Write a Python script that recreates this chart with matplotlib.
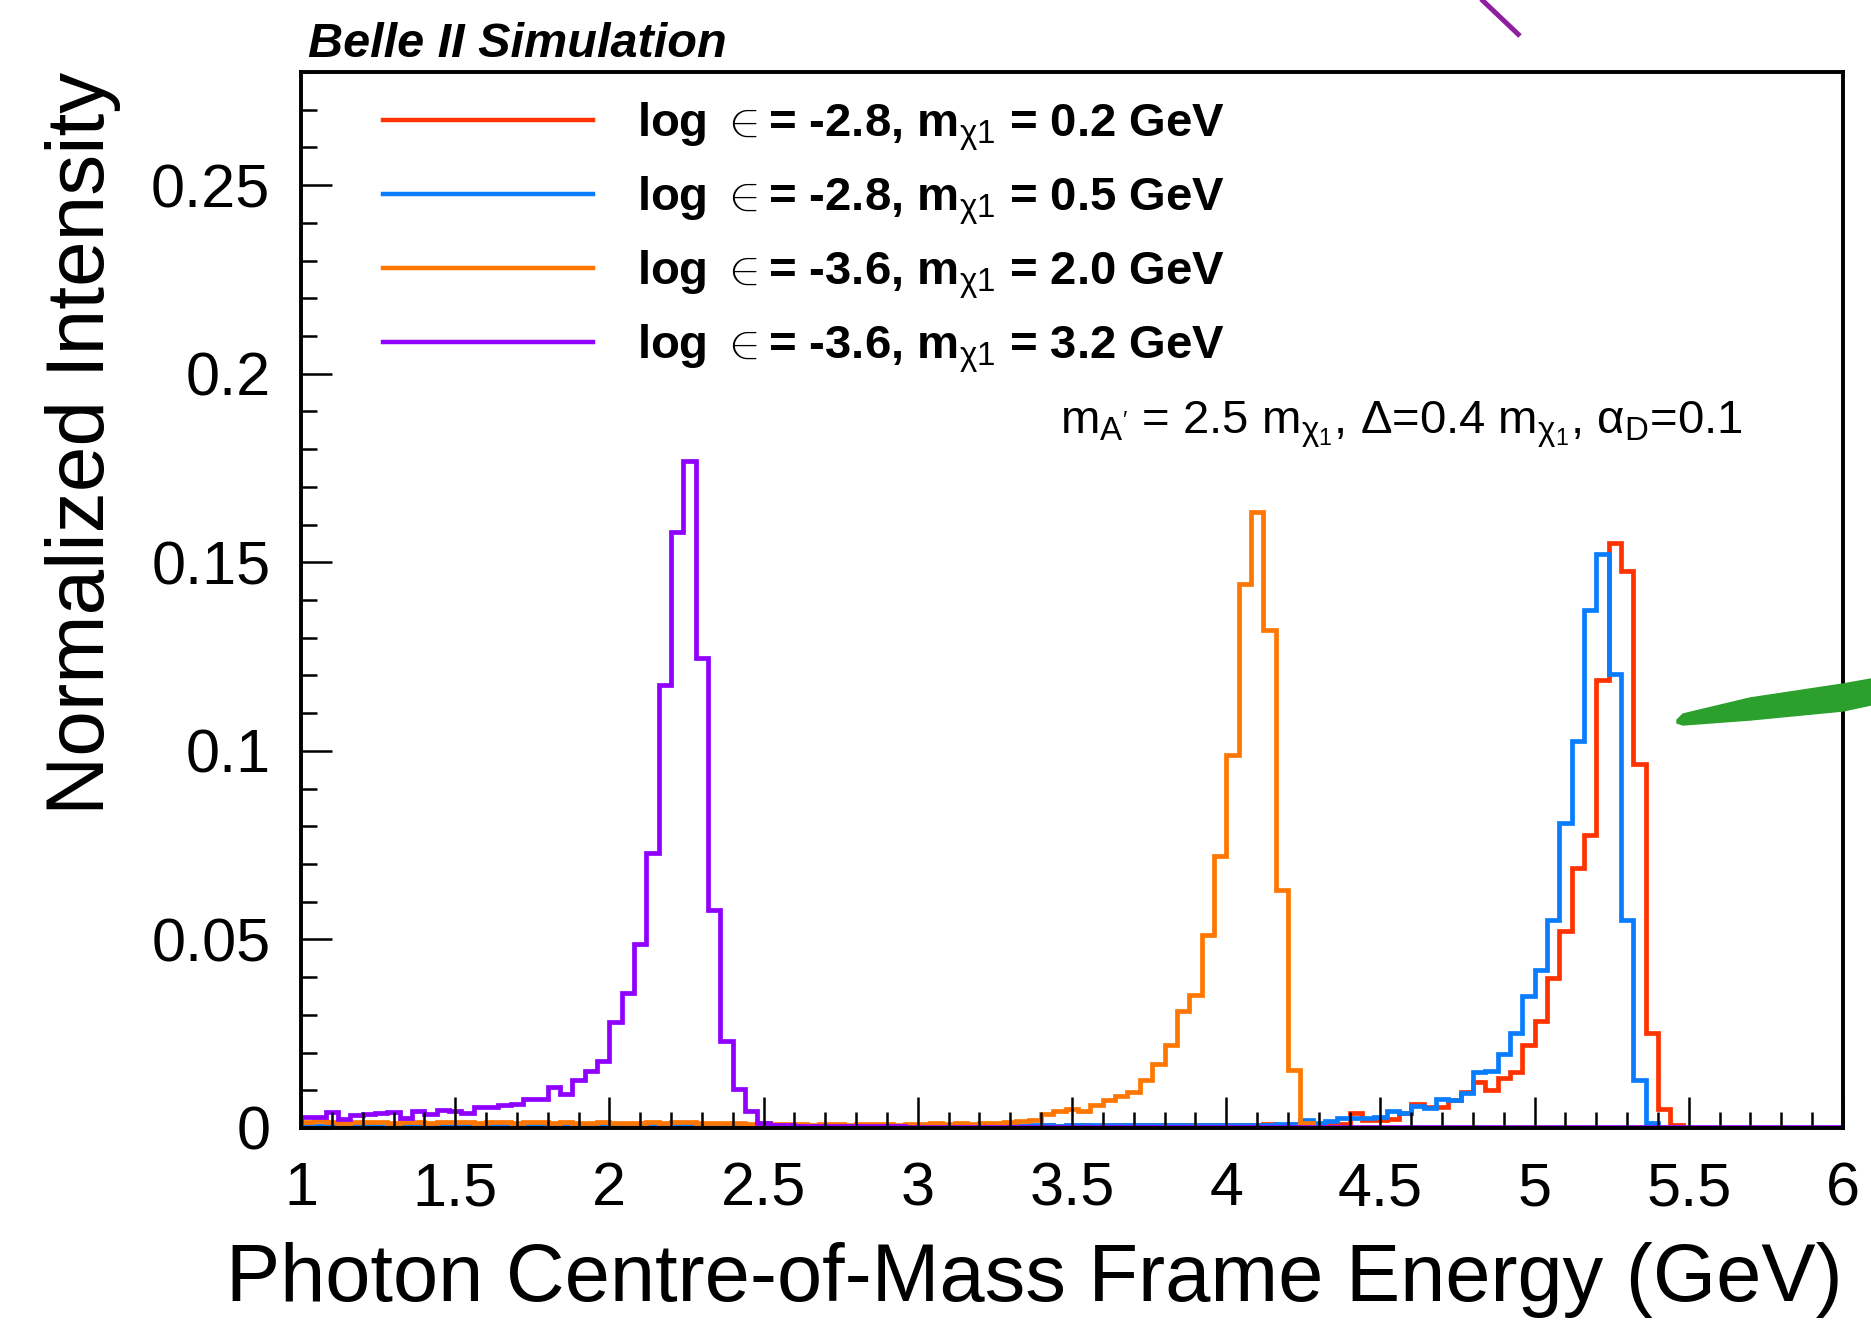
import numpy as np
import matplotlib
matplotlib.use("Agg")
import matplotlib.pyplot as plt
from matplotlib.lines import Line2D
from matplotlib.patches import Polygon

plt.rcParams['font.family'] = ['Liberation Sans', 'DejaVu Sans']
plt.rcParams['mathtext.fontset'] = 'custom'
plt.rcParams['mathtext.rm'] = 'Liberation Sans'
plt.rcParams['mathtext.it'] = 'Liberation Sans:italic'
plt.rcParams['mathtext.bf'] = 'Liberation Sans:bold'

# 125 bins of 0.04 GeV between 1 and 6 GeV
bin_edges = np.round(1.0 + 0.04 * np.arange(126), 2)

# eps=-2.8, m=0.2 GeV
red_vals = [
    0.0004, 0.0005, 0.0003, 0.0004, 0.0005, 0.0004, 0.0003, 0.0004, 0.0005, 0.0004,
    0.0003, 0.0004, 0.0005, 0.0004, 0.0004, 0.0003, 0.0004, 0.0005, 0.0004, 0.0004,
    0.0005, 0.0011, 0.0004, 0.0004, 0.0005, 0.0004, 0.0004, 0.0005, 0.0004, 0.0005,
    0.0004, 0.0005, 0.0004, 0.0004, 0.0005, 0.0004, 0.0005, 0.0004, 0.0005, 0.0005,
    0.0004, 0.0005, 0.0005, 0.0004, 0.0005, 0.0006, 0.0005, 0.0005, 0.0006, 0.0005,
    0.0006, 0.0005, 0.0006, 0.0006, 0.0005, 0.0006, 0.0006, 0.0007, 0.0006, 0.0006,
    0.0007, 0.0006, 0.0007, 0.0007, 0.0006, 0.0007, 0.0007, 0.0008, 0.0007, 0.0008,
    0.0007, 0.0008, 0.0008, 0.0007, 0.0008, 0.0009, 0.0008, 0.0009, 0.0010, 0.0009,
    0.0011, 0.0010, 0.0011, 0.0011, 0.0011, 0.0040, 0.0021, 0.0021, 0.0024, 0.0040,
    0.0064, 0.0056, 0.0056, 0.0073, 0.0096, 0.0121, 0.0100, 0.0132, 0.0148, 0.0219,
    0.0284, 0.0397, 0.0522, 0.0690, 0.0776, 0.1188, 0.1550, 0.1478, 0.0966, 0.0251,
    0.0051, 0.0008, 0.0, 0.0, 0.0, 0.0, 0.0, 0.0, 0.0, 0.0,
    0.0, 0.0, 0.0, 0.0, 0.0,
]

# eps=-2.8, m=0.5 GeV
blue_vals = [
    0.0006, 0.0005, 0.0004, 0.0005, 0.0004, 0.0005, 0.0004, 0.0004, 0.0005, 0.0006,
    0.0004, 0.0005, 0.0004, 0.0005, 0.0004, 0.0004, 0.0005, 0.0006, 0.0004, 0.0005,
    0.0004, 0.0005, 0.0004, 0.0005, 0.0006, 0.0005, 0.0004, 0.0005, 0.0004, 0.0005,
    0.0005, 0.0004, 0.0005, 0.0006, 0.0005, 0.0004, 0.0005, 0.0005, 0.0006, 0.0005,
    0.0005, 0.0006, 0.0005, 0.0005, 0.0006, 0.0005, 0.0006, 0.0006, 0.0005, 0.0006,
    0.0006, 0.0005, 0.0006, 0.0006, 0.0007, 0.0006, 0.0006, 0.0007, 0.0006, 0.0007,
    0.0007, 0.0006, 0.0007, 0.0007, 0.0008, 0.0007, 0.0007, 0.0008, 0.0007, 0.0008,
    0.0007, 0.0007, 0.0008, 0.0007, 0.0008, 0.0008, 0.0009, 0.0008, 0.0009, 0.0010,
    0.0011, 0.0021, 0.0013, 0.0018, 0.0027, 0.0026, 0.0027, 0.0029, 0.0045, 0.0040,
    0.0058, 0.0053, 0.0078, 0.0075, 0.0094, 0.0148, 0.0150, 0.0197, 0.0251, 0.0349,
    0.0419, 0.0551, 0.0809, 0.1027, 0.1374, 0.1523, 0.1204, 0.0551, 0.0127, 0.0013,
    0.0, 0.0, 0.0, 0.0, 0.0, 0.0, 0.0, 0.0, 0.0, 0.0,
    0.0, 0.0, 0.0, 0.0, 0.0,
]

# eps=-3.6, m=2.0 GeV
orange_vals = [
    0.0015, 0.0018, 0.0016, 0.0014, 0.0017, 0.0015, 0.0016, 0.0014, 0.0016, 0.0015,
    0.0014, 0.0016, 0.0015, 0.0017, 0.0014, 0.0015, 0.0016, 0.0014, 0.0015, 0.0016,
    0.0014, 0.0015, 0.0013, 0.0014, 0.0015, 0.0013, 0.0014, 0.0013, 0.0015, 0.0014,
    0.0016, 0.0015, 0.0014, 0.0013, 0.0012, 0.0013, 0.0011, 0.0012, 0.0010, 0.0011,
    0.0010, 0.0009, 0.0011, 0.0010, 0.0009, 0.0010, 0.0011, 0.0010, 0.0009, 0.0011,
    0.0010, 0.0012, 0.0011, 0.0012, 0.0011, 0.0012, 0.0013, 0.0017, 0.0019, 0.0022,
    0.0036, 0.0045, 0.0050, 0.0045, 0.0060, 0.0075, 0.0084, 0.0095, 0.0128, 0.0170,
    0.0220, 0.0311, 0.0352, 0.0512, 0.0722, 0.0990, 0.1442, 0.1632, 0.1320, 0.0631,
    0.0153, 0.0013, 0.0002, 0.0002, 0.0001, 0.0001, 0.0001, 0.0001, 0.0001, 0.0001,
    0.0001, 0.0001, 0.0001, 0.0001, 0.0001, 0.0001, 0.0001, 0.0001, 0.0001, 0.0001,
    0.0001, 0.0001, 0.0001, 0.0001, 0.0001, 0.0001, 0.0001, 0.0001, 0.0001, 0.0001,
    0.0001, 0.0001, 0.0001, 0.0001, 0.0001, 0.0001, 0.0001, 0.0001, 0.0001, 0.0001,
    0.0001, 0.0001, 0.0001, 0.0001, 0.0001,
]

# eps=-3.6, m=3.2 GeV
purple_vals = [
    0.0030, 0.0030, 0.0042, 0.0024, 0.0034, 0.0036, 0.0039, 0.0042, 0.0027, 0.0045,
    0.0036, 0.0048, 0.0045, 0.0040, 0.0055, 0.0055, 0.0061, 0.0064, 0.0076, 0.0076,
    0.0109, 0.0091, 0.0127, 0.0151, 0.0178, 0.0281, 0.0357, 0.0488, 0.0729, 0.1175,
    0.1581, 0.1769, 0.1246, 0.0578, 0.0230, 0.0103, 0.0046, 0.0012, 0.0008, 0.0007,
    0.0006, 0.0006, 0.0005, 0.0005, 0.0005, 0.0004, 0.0004, 0.0004, 0.0004, 0.0003,
    0.0003, 0.0003, 0.0003, 0.0003, 0.0003, 0.0003, 0.0003, 0.0003, 0.0003, 0.0003,
    0.0003, 0.0003, 0.0003, 0.0003, 0.0003, 0.0003, 0.0003, 0.0003, 0.0003, 0.0003,
    0.0003, 0.0003, 0.0003, 0.0003, 0.0003, 0.0003, 0.0003, 0.0003, 0.0003, 0.0003,
    0.0003, 0.0003, 0.0003, 0.0003, 0.0003, 0.0003, 0.0003, 0.0003, 0.0003, 0.0003,
    0.0003, 0.0003, 0.0003, 0.0003, 0.0003, 0.0003, 0.0003, 0.0003, 0.0003, 0.0003,
    0.0003, 0.0003, 0.0003, 0.0003, 0.0003, 0.0003, 0.0003, 0.0003, 0.0003, 0.0003,
    0.0003, 0.0003, 0.0003, 0.0003, 0.0003, 0.0003, 0.0003, 0.0003, 0.0003, 0.0003,
    0.0003, 0.0003, 0.0003, 0.0003, 0.0003,
]

series = [red_vals, blue_vals, orange_vals, purple_vals]
colors = ['#FF3300', '#0A7DFF', '#FF7700', '#8F00FF']
labels = [
    r"log $\in$= -2.8, m$_{\mathrm{\chi}1}$ = 0.2 GeV",
    r"log $\in$= -2.8, m$_{\mathrm{\chi}1}$ = 0.5 GeV",
    r"log $\in$= -3.6, m$_{\mathrm{\chi}1}$ = 2.0 GeV",
    r"log $\in$= -3.6, m$_{\mathrm{\chi}1}$ = 3.2 GeV",
]
note = (r"m$_{\mathrm{A'}}$ = 2.5 m$_{\mathrm{\chi}_{1}}$, $\Delta$=0.4 m$_{\mathrm{\chi}_{1}}$, "
        r"$\mathrm{\alpha}_{\mathrm{D}}$=0.1")

fig = plt.figure(figsize=(18.71, 13.23), dpi=100)
ax = fig.add_axes([0.1609, 0.1474, 0.8241, 0.7982])

for vals, col in zip(series, colors):
    ax.stairs(vals, bin_edges, color=col, lw=3.4, baseline=0)

ax.set_xlim(1, 6)
ax.set_ylim(0, 0.28)
ax.set_xticks(np.arange(1, 6.01, 0.5))
ax.set_xticklabels(['1', '1.5', '2', '2.5', '3', '3.5', '4', '4.5', '5', '5.5', '6'])
ax.set_xticks(np.arange(1, 6.001, 0.1), minor=True)
ax.set_yticks([0, 0.05, 0.1, 0.15, 0.2, 0.25])
ax.set_yticklabels(['0', '0.05', '0.1', '0.15', '0.2', '0.25'])
ax.set_yticks(np.arange(0, 0.2801, 0.01), minor=True)
ax.tick_params(which='both', direction='in', top=False, right=False, width=1.8)
ax.tick_params(which='major', length=22, labelsize=44)
ax.tick_params(which='minor', length=11.5)
ax.tick_params(axis='x', which='major', pad=24)
ax.tick_params(axis='y', which='major', pad=22)
for sp in ax.spines.values():
    sp.set_linewidth(2.8)

ax.set_xlabel("Photon Centre-of-Mass Frame Energy (GeV)", fontsize=58.5, loc='right')
ax.xaxis.set_label_coords(1.0, -0.108)
ax.set_ylabel("Normalized Intensity", fontsize=59, loc='top')
ax.yaxis.set_label_coords(-0.117, 1.0)

handles = [Line2D([], [], color=c, lw=3.2) for c in colors]
ax.legend(handles, labels, loc='upper left', bbox_to_anchor=(0.035, 1.0),
          frameon=False, prop={'size': 34, 'weight': 'bold'},
          handlelength=4.45, handletextpad=0.92, labelspacing=0.46,
          borderaxespad=0.2)

ax.text(0.492, 0.666, note, transform=ax.transAxes, fontsize=34, va='center', ha='left')

fig.text(0.1646, 0.966, "Belle II Simulation", fontsize=35, fontweight='bold',
         fontstyle='italic', ha='left', va='center')

# hand-drawn marks over the figure
W, H = 1871.0, 1323.0
fig.add_artist(Line2D([1480 / W, 1520 / W], [1 - (-2) / H, 1 - 36 / H],
                      transform=fig.transFigure, color='#8E1F9E', lw=3.6,
                      solid_capstyle='butt'))
stroke = [(1677, 720), (1683, 714), (1750, 698), (1843, 684), (1871, 679),
          (1871, 705), (1843, 711), (1750, 720), (1683, 725), (1677, 723)]
fig.add_artist(Polygon([(x / W, 1 - y / H) for x, y in stroke],
                       closed=True, transform=fig.transFigure,
                       facecolor='#2CA02C', edgecolor='#2CA02C', lw=1))

fig.savefig("out.png", dpi=100)
